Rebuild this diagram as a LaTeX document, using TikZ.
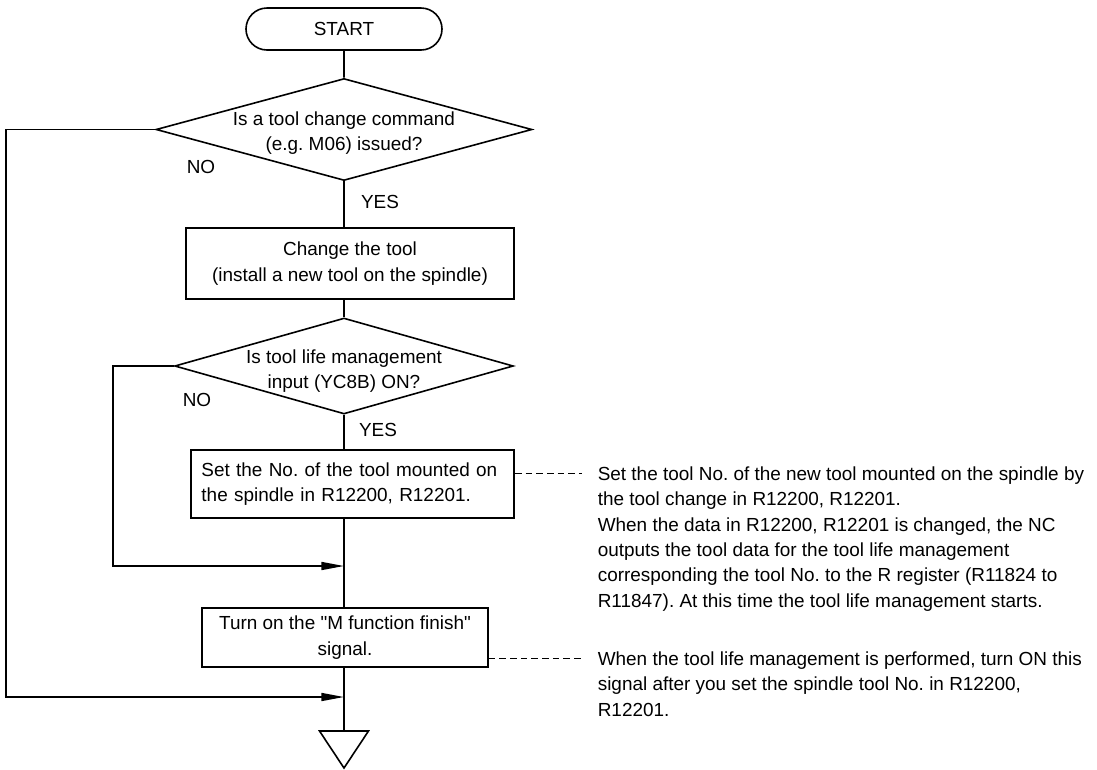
\documentclass[tikz,border=0pt]{standalone}
\usepackage{fontspec}
\setmainfont{Liberation Sans}[Ligatures=TeXOff]
\usetikzlibrary{shapes.geometric,shapes.misc,arrows.meta}
\frenchspacing

\begin{document}
\begin{tikzpicture}[x=0.75pt,y=-0.75pt,line width=1.2pt,
  font=\fontsize{14.2}{19}\selectfont,
  terminal/.style={draw,rounded rectangle,minimum width=147pt,minimum height=31.5pt,inner sep=0pt},
  decision/.style={draw,diamond,inner sep=0pt},
  process/.style={draw,rectangle,align=center,inner xsep=6pt,inner ysep=0pt},
  flow/.style={-{Triangle[length=17pt,width=6pt]}},
  lead/.style={line width=0.7pt,dash pattern=on 5pt off 3pt},
  note/.style={anchor=north west,align=left,inner sep=0pt}]
  \useasboundingbox (0,0) rectangle (1097,769);
  % start and first question
  \node[terminal] (start) at (344,29) {START};
  \node[decision,minimum width=282pt,minimum height=76.5pt] (d1) at (344,129.5) {};
  \node[align=center] (q1) at (344,133) {Is a tool change command\\(e.g. M06) issued?};
  \node (no1) at (201,167) {NO};
  \node (yes1) at (380,202) {YES};
  % tool change
  \node[process,minimum width=246pt,minimum height=53.25pt] (b1) at (350,263.5) {Change the tool\\(install a new tool on the spindle)};
  % second question
  \node[decision,minimum width=254pt,minimum height=72pt] (d2) at (344,366) {};
  \node[align=center] (q2) at (344,371) {Is tool life management\\input (YC8B) ON?};
  \node (no2) at (197,400) {NO};
  \node (yes2) at (378,430) {YES};
  % spindle tool No. and finish signal
  \node[process,anchor=west,align=left,text width=226.5pt,inner xsep=8pt,minimum height=51pt] (b2) at (190,484) {Set the No. of the tool mounted on\\the spindle in R12200, R12201.};
  \node[process,minimum width=214.5pt,minimum height=44.25pt] (b3) at (345,637.5) {Turn on the "M function finish"\\signal.};
  % junctions and rails
  \coordinate (j2) at (344,566);
  \coordinate (j1) at (344,697);
  \coordinate (fin) at (344,731);
  \coordinate (rail1) at (6,0);
  \coordinate (rail2) at (113,0);
  % main line
  \draw (start) -- (d1);
  \draw (d1) -- (d1.south |- b1.north);
  \draw (d1.south |- b1.south) -- (d2);
  \draw (d2) -- (d2.south |- b2.north);
  \draw (d2.south |- b2.south) -- (d2.south |- b3.north);
  \draw (d2.south |- b3.south) -- (fin);
  \draw (fin) -- ++(24.5,0) -- ++(-24.5,37) -- ++(-24.5,-37) -- cycle;
  % NO branches
  \draw[flow] (d1.west) -- (d1.west -| rail1) |- (j1);
  \draw[flow] (d2.west) -- (d2.west -| rail2) |- (j2);
  % notes
  \coordinate (l1) at (582,473);
  \coordinate (l2) at (582,658);
  \draw[lead] (b2.east |- l1) -- (l1);
  \draw[lead] (b3.east |- l2) -- (l2);
  \node[note] (n1) at (597,466) {Set the tool No. of the new tool mounted on the spindle by\\the tool change in R12200, R12201.\\When the data in R12200, R12201 is changed, the NC\\outputs the tool data for the tool life management\\corresponding the tool No. to the R register (R11824 to\\R11847). At this time the tool life management starts.};
  \node[note] (n2) at (597,651) {When the tool life management is performed, turn ON this\\signal after you set the spindle tool No. in R12200,\\R12201.};
\end{tikzpicture}
\end{document}
